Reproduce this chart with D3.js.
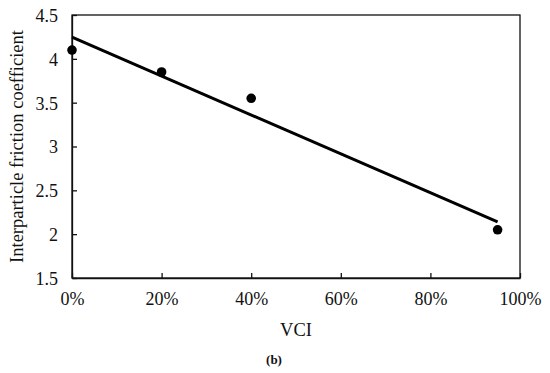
<!DOCTYPE html>
<html>
<head>
<meta charset="utf-8">
<script src="https://cdn.jsdelivr.net/npm/d3@7"></script>
<style>
  body { margin: 0; background: #fff; }
  text { font-family: "Liberation Serif", "Times New Roman", serif; fill: #111; }
</style>
</head>
<body>
<div id="chart"></div>
<script>
// data
const vci = [0, 0.2, 0.4, 0.95];
const friction = [4.1, 3.85, 3.55, 2.05];
const xTicks = [0, 0.2, 0.4, 0.6, 0.8, 1.0];
const yTicks = [1.5, 2, 2.5, 3, 3.5, 4, 4.5];

const width = 550, height = 373;
const margin = {top: 15, right: 30, bottom: 95, left: 72};
const w = width - margin.left - margin.right;
const h = height - margin.top - margin.bottom;

const svg = d3.select("#chart").append("svg")
    .attr("width", width)
    .attr("height", height);

const g = svg.append("g")
    .attr("transform", "translate(" + margin.left + "," + margin.top + ")");

const x = d3.scaleLinear().domain([0, 1]).range([0, w]);
const y = d3.scaleLinear().domain([1.5, 4.5]).range([h, 0]);

// frame
g.append("rect")
    .attr("width", w).attr("height", h)
    .attr("fill", "none").attr("stroke", "#111").attr("stroke-width", 1.3);

// axes, ticks pointing inward
const xAxis = g.append("g")
    .attr("transform", "translate(0," + h + ")")
    .call(d3.axisBottom(x).tickValues(xTicks).tickSizeInner(-5).tickSizeOuter(0)
        .tickPadding(14).tickFormat(d3.format(".0%")));
const yAxis = g.append("g")
    .call(d3.axisLeft(y).tickValues(yTicks).tickSizeInner(-5).tickSizeOuter(0)
        .tickPadding(14).tickFormat(d => d));

[xAxis, yAxis].forEach(a => {
    a.select(".domain").attr("stroke", "#111").attr("stroke-width", 1.3);
    a.selectAll(".tick line").attr("stroke", "#111").attr("stroke-width", 1.3);
    a.selectAll("text").attr("font-size", 18).attr("fill", "#111")
        .style("font-family", "Liberation Serif, serif");
});
yAxis.selectAll("text").attr("dy", "0.36em");

// linear trend (least squares from the points)
const mx = d3.mean(vci), my = d3.mean(friction);
const sxy = d3.sum(vci, (v, i) => (v - mx) * (friction[i] - my));
const sxx = d3.sum(vci, v => (v - mx) * (v - mx));
const slope = sxy / sxx, icpt = my - slope * mx;
const trendX = [d3.min(vci), d3.max(vci)];

g.append("line")
    .attr("x1", x(trendX[0])).attr("y1", y(icpt + slope * trendX[0]))
    .attr("x2", x(trendX[1])).attr("y2", y(icpt + slope * trendX[1]))
    .attr("stroke", "#000").attr("stroke-width", 3);

g.selectAll("circle")
    .data(vci)
    .enter()
    .append("circle")
    .attr("cx", d => x(d))
    .attr("cy", (d, i) => y(friction[i]))
    .attr("r", 4.8)
    .attr("fill", "#000");

// labels
svg.append("text")
    .attr("x", margin.left + w / 2)
    .attr("y", 336)
    .attr("text-anchor", "middle")
    .attr("font-size", 18.5)
    .text("VCI");

svg.append("text")
    .attr("transform", "translate(23," + (margin.top + h / 2) + ") rotate(-90)")
    .attr("text-anchor", "middle")
    .attr("font-size", 18.5)
    .text("Interparticle friction coefficient");

svg.append("text")
    .attr("x", 274)
    .attr("y", 364)
    .attr("text-anchor", "middle")
    .attr("font-size", 13)
    .attr("font-weight", "bold")
    .text("(b)");
</script>
</body>
</html>
